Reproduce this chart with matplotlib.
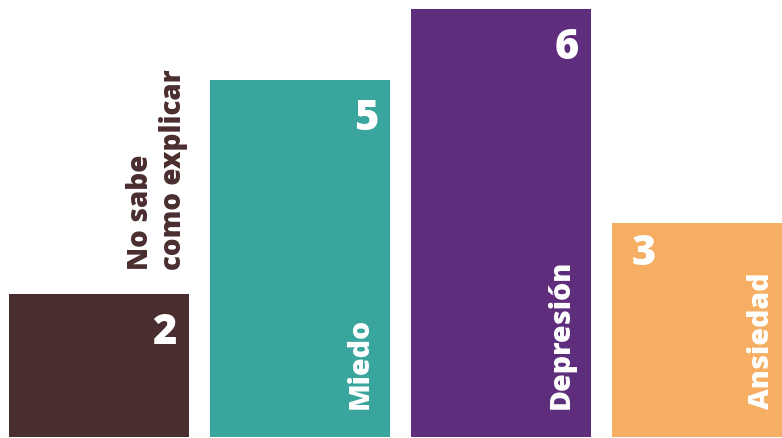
import matplotlib
matplotlib.use("Agg")
import matplotlib.pyplot as plt

categories = ["No sabe\ncomo explicar", "Miedo", "Depresión", "Ansiedad"]
values = [2, 5, 6, 3]
colors = ["#4a2d2f", "#3aa59c", "#5e2d7c", "#f6ae63"]

plt.rcParams["font.family"] = ["Open Sans", "DejaVu Sans"]

fig = plt.figure(figsize=(7.82, 4.38), dpi=100)
ax = fig.add_axes([0, 0, 1, 1])

x = list(range(len(values)))
width = 0.8955
bars = ax.bar(x, values, width=width, color=colors, linewidth=0)

ax.set_xlim(-0.4925, 3.398)
ax.set_ylim(-0.014, 6.126)
ax.axis("off")

# value labels in the top corner of each bar
for i, (xi, v) in enumerate(zip(x, values)):
    if i == 3:
        ax.annotate(str(v), xy=(xi - width / 2, v), xytext=(20, -10),
                    textcoords="offset pixels", ha="left", va="top",
                    color="white", fontsize=30, fontweight=800,
                    annotation_clip=False)
    else:
        ax.annotate(str(v), xy=(xi + width / 2, v), xytext=(-12, -18),
                    textcoords="offset pixels", ha="right", va="top",
                    color="white", fontsize=30, fontweight=800,
                    annotation_clip=False)

# category labels, written vertically
for i, (xi, v, name) in enumerate(zip(x, values, categories)):
    if i == 0:
        ax.annotate(name, xy=(xi + width / 2, v), xytext=(-32, 24),
                    textcoords="offset pixels", rotation=90, ha="center",
                    va="bottom", multialignment="left", color=colors[0],
                    fontsize=20, fontweight=800, linespacing=1.2,
                    annotation_clip=False)
    else:
        ax.annotate(name, xy=(xi + width / 2, 0), xytext=(-30, 28),
                    textcoords="offset pixels", rotation=90, ha="center",
                    va="bottom", color="white", fontsize=20.5, fontweight=800,
                    annotation_clip=False)

fig.savefig("out.png", dpi=100)
